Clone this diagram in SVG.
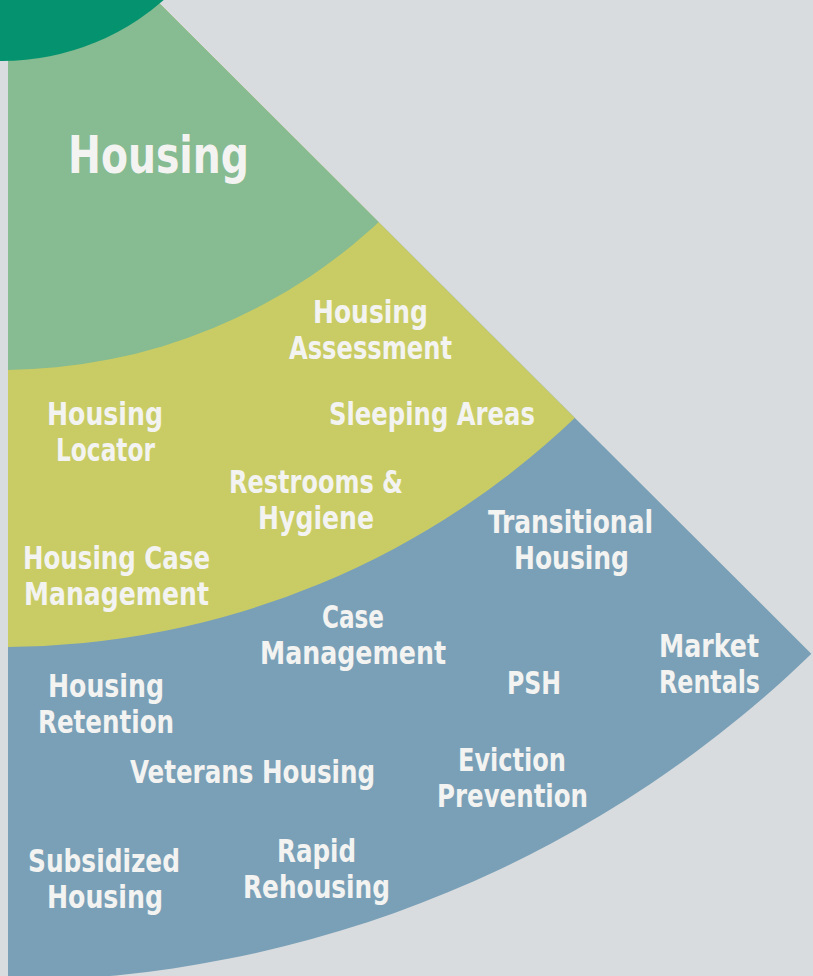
<svg xmlns="http://www.w3.org/2000/svg" width="813" height="976" viewBox="0 0 813 976">
  <style>
    .lbl { font-family: "DejaVu Sans", "Liberation Sans", sans-serif; font-weight: bold; font-stretch: condensed; font-size: 32px; fill: #f3f3f1; }
    .big { font-size: 52px; }
  </style>
  <defs>
    <clipPath id="wedge">
      <polygon points="8,-10 146,-10 1000,842 1000,1000 8,1000"/>
    </clipPath>
  </defs>
  <rect x="0" y="0" width="813" height="976" fill="#d9dcdf"/>
  <g id="bands" clip-path="url(#wedge)">
    <circle id="band-blue" cx="2" cy="-184" r="1165" fill="#7aa0b7"/>
    <circle id="band-yellow" cx="2" cy="-184" r="831" fill="#c9cc64"/>
    <circle id="band-green" cx="2" cy="-184" r="554" fill="#87bb91"/>
  </g>
  <circle id="core" cx="2" cy="-184" r="245" fill="#05936f"/>

  <g id="title"><text class="lbl big" x="68" y="173" textLength="181" lengthAdjust="spacingAndGlyphs">Housing</text></g>

  <g id="housing-assessment">
    <text class="lbl" x="313" y="323" textLength="115" lengthAdjust="spacingAndGlyphs">Housing</text>
    <text class="lbl" x="289" y="359" textLength="163" lengthAdjust="spacingAndGlyphs">Assessment</text>
  </g>
  <g id="sleeping-areas"><text class="lbl" x="329" y="425" textLength="206" lengthAdjust="spacingAndGlyphs">Sleeping Areas</text></g>
  <g id="housing-locator">
    <text class="lbl" x="47" y="425" textLength="116" lengthAdjust="spacingAndGlyphs">Housing</text>
    <text class="lbl" x="56" y="461" textLength="99" lengthAdjust="spacingAndGlyphs">Locator</text>
  </g>
  <g id="restrooms-hygiene">
    <text class="lbl" x="229" y="493" textLength="174" lengthAdjust="spacingAndGlyphs">Restrooms &amp;</text>
    <text class="lbl" x="258" y="529" textLength="116" lengthAdjust="spacingAndGlyphs">Hygiene</text>
  </g>
  <g id="transitional-housing">
    <text class="lbl" x="488" y="533" textLength="165" lengthAdjust="spacingAndGlyphs">Transitional</text>
    <text class="lbl" x="514" y="569" textLength="115" lengthAdjust="spacingAndGlyphs">Housing</text>
  </g>
  <g id="housing-case-management">
    <text class="lbl" x="23" y="569" textLength="187" lengthAdjust="spacingAndGlyphs">Housing Case</text>
    <text class="lbl" x="24" y="605" textLength="185" lengthAdjust="spacingAndGlyphs">Management</text>
  </g>
  <g id="case-management">
    <text class="lbl" x="322" y="628" textLength="62" lengthAdjust="spacingAndGlyphs">Case</text>
    <text class="lbl" x="260" y="664" textLength="186" lengthAdjust="spacingAndGlyphs">Management</text>
  </g>
  <g id="market-rentals">
    <text class="lbl" x="659" y="657" textLength="100" lengthAdjust="spacingAndGlyphs">Market</text>
    <text class="lbl" x="659" y="693" textLength="101" lengthAdjust="spacingAndGlyphs">Rentals</text>
  </g>
  <g id="psh"><text class="lbl" x="507" y="694" textLength="54" lengthAdjust="spacingAndGlyphs">PSH</text></g>
  <g id="housing-retention">
    <text class="lbl" x="48" y="697" textLength="116" lengthAdjust="spacingAndGlyphs">Housing</text>
    <text class="lbl" x="38" y="733" textLength="136" lengthAdjust="spacingAndGlyphs">Retention</text>
  </g>
  <g id="veterans-housing"><text class="lbl" x="130" y="783" textLength="245" lengthAdjust="spacingAndGlyphs">Veterans Housing</text></g>
  <g id="eviction-prevention">
    <text class="lbl" x="458" y="771" textLength="108" lengthAdjust="spacingAndGlyphs">Eviction</text>
    <text class="lbl" x="437" y="807" textLength="151" lengthAdjust="spacingAndGlyphs">Prevention</text>
  </g>
  <g id="rapid-rehousing">
    <text class="lbl" x="277" y="862" textLength="79" lengthAdjust="spacingAndGlyphs">Rapid</text>
    <text class="lbl" x="243" y="898" textLength="147" lengthAdjust="spacingAndGlyphs">Rehousing</text>
  </g>
  <g id="subsidized-housing">
    <text class="lbl" x="28" y="872" textLength="152" lengthAdjust="spacingAndGlyphs">Subsidized</text>
    <text class="lbl" x="47" y="908" textLength="116" lengthAdjust="spacingAndGlyphs">Housing</text>
  </g>
</svg>
